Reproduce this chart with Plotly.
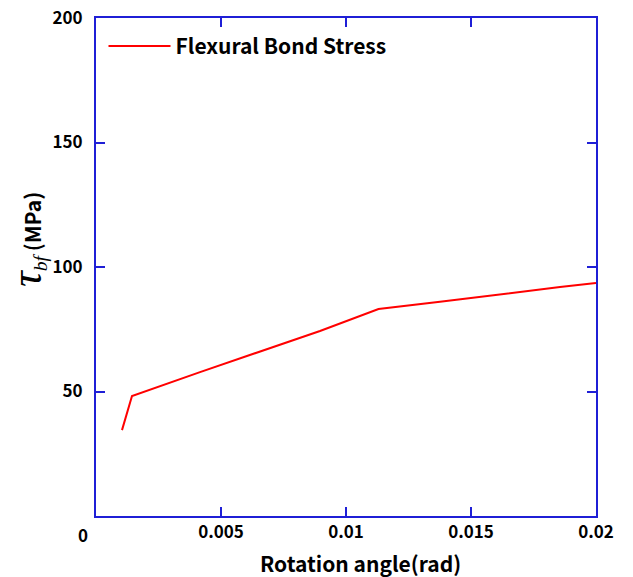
import plotly.graph_objects as go

rotation = [0.00104, 0.00144, 0.00416, 0.0065, 0.00896, 0.0113, 0.01376, 0.01856, 0.02]
stress = [34.5, 48.2, 57.8, 65.8, 74.3, 83.1, 86.0, 92.0, 93.6]
series_name = "Flexural Bond Stress"
x_tickvals = [0, 0.005, 0.01, 0.015, 0.02]
x_ticktext = ["", "0.005", "0.01", "0.015", "0.02"]
y_tickvals = [50, 100, 150, 200]

font_fam = "Noto Sans CJK KR, Open Sans, sans-serif"
blue = "#1f1fd6"

fig = go.Figure()
fig.add_trace(go.Scatter(x=rotation, y=stress, mode="lines", name="<b>" + series_name + "</b>",
                         line=dict(color="#ff0000", width=2)))

fig.update_layout(
    width=633, height=577,
    margin=dict(l=96, r=37, t=18, b=61, autoexpand=False),
    plot_bgcolor="white", paper_bgcolor="white",
    showlegend=True,
    legend=dict(x=0.015, y=0.984, xanchor="left", yanchor="top",
                itemwidth=62,
                bgcolor="rgba(0,0,0,0)",
                font=dict(family=font_fam, size=21, color="black")),
    font=dict(family=font_fam, color="black"),
)
fig.update_xaxes(range=[0, 0.02], tickvals=x_tickvals, ticktext=x_ticktext,
                 showgrid=False, zeroline=False, automargin=False,
                 showline=True, linecolor=blue, linewidth=2, mirror="ticks",
                 ticks="inside", ticklen=9, tickcolor=blue, tickwidth=1.5,
                 tickfont=dict(family=font_fam, size=17, color="black", weight="bold"))
fig.update_yaxes(range=[0, 200], tickvals=y_tickvals,
                 showgrid=False, zeroline=False, automargin=False,
                 showline=True, linecolor=blue, linewidth=2, mirror="ticks",
                 ticks="inside", ticklen=9, tickcolor=blue, tickwidth=1.5,
                 ticklabelstandoff=8,
                 tickfont=dict(family=font_fam, size=17, color="black", weight="bold"))
fig.add_annotation(text="<span style='font-family:Liberation Serif;font-size:44px'><i>τ</i></span><span style='font-family:Liberation Serif;font-size:28px'><sub><i>bf</i></sub></span><b> (MPa)</b>",
                   x=-70/500, y=(516-240)/498, xref="x domain", yref="y domain",
                   xanchor="center", yanchor="middle", textangle=-90,
                   showarrow=False, font=dict(family=font_fam, size=21, color="black"))
fig.add_annotation(text="<b>Rotation angle(rad)</b>",
                   x=(360-96)/500, y=-(563-516)/498, xref="x domain", yref="y domain",
                   xanchor="center", yanchor="middle",
                   showarrow=False, font=dict(family=font_fam, size=21, color="black"))
fig.add_annotation(text="<b>0</b>", x=-13/500, y=-18/498, xref="x domain", yref="y domain",
                   xanchor="center", yanchor="middle",
                   showarrow=False, font=dict(family=font_fam, size=17, color="black"))
fig.write_html("out.html")
